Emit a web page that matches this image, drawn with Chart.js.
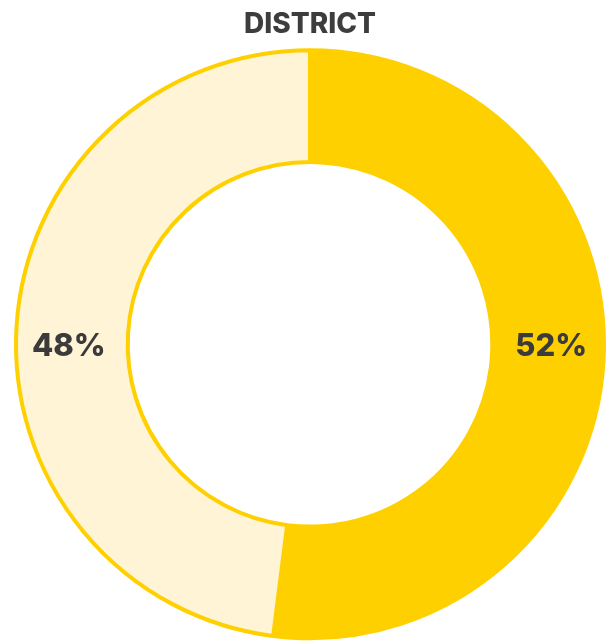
<!DOCTYPE html>
<html>
<head>
<meta charset="utf-8">
<script src="https://cdn.jsdelivr.net/npm/chart.js@4"></script>
<style>
  html, body { margin: 0; padding: 0; background: #fff; }
  #wrap { width: 606px; height: 641px; }
</style>
</head>
<body>
<div id="wrap"><canvas id="district"></canvas></div>
<script>
const etiquetas = ['A', 'B'];
const valores = [52, 48];
const colores = ['#FFD000', '#FFF4D6'];

// dibuja el porcentaje a la altura del centro, en el lado de cada arco
const porcentajes = {
    id: 'porcentajes',
    afterDatasetsDraw(chart) {
        const ctx = chart.ctx;
        const total = valores.reduce((a, b) => a + b, 0);
        chart.getDatasetMeta(0).data.forEach((arc, i) => {
            const p = arc.getProps(['x', 'y', 'startAngle', 'endAngle', 'innerRadius', 'outerRadius'], true);
            const ang = (p.startAngle + p.endAngle) / 2;
            const r = (p.innerRadius + p.outerRadius) / 2;
            const lado = Math.cos(ang) >= 0 ? 1 : -1;
            ctx.save();
            ctx.font = '800 31px Inter, "Open Sans", sans-serif';
            ctx.fillStyle = '#3b3b3b';
            ctx.textAlign = 'center';
            ctx.textBaseline = 'middle';
            ctx.fillText(Math.round(valores[i] / total * 100) + '%', p.x + lado * (r + 3), p.y + 2);
            ctx.restore();
        });
    }
};

new Chart(document.getElementById('district'), {
    type: 'doughnut',
    data: {
        labels: etiquetas,
        datasets: [{
            data: valores,
            backgroundColor: colores,
            borderColor: '#FFD000',
            borderWidth: 4
        }]
    },
    options: {
        responsive: true,
        maintainAspectRatio: false,
        animation: false,
        cutout: '62%',
        layout: { padding: { left: 14, right: 0, top: 0, bottom: 0 } },
        plugins: {
            legend: { display: false },
            tooltip: { enabled: false },
            title: {
                display: true,
                text: 'DISTRICT',
                color: '#3d3d3d',
                font: { family: 'Inter, "Open Sans", sans-serif', size: 28, weight: 800 },
                padding: { top: 8, bottom: 6 }
            }
        }
    },
    plugins: [porcentajes]
});
</script>
</body>
</html>
